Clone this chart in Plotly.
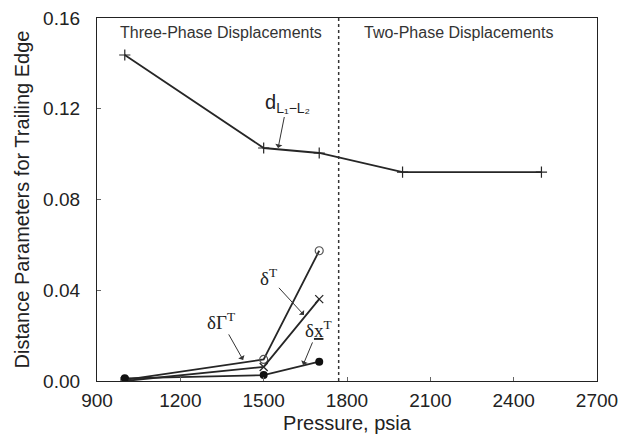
import plotly.graph_objects as go

# Data
pressure_dl = [1000, 1500, 1700, 2000, 2500]
d_l1_l2 = [0.1437, 0.1027, 0.1005, 0.0921, 0.0921]

pressure_low = [1000, 1500, 1700]
delta_gamma_T = [0.0005, 0.0095, 0.0574]   # open circles
delta_T = [0.0000, 0.0062, 0.0361]         # x markers
delta_x_T = [0.0012, 0.0026, 0.0085]       # filled circles

x_ticks = [900, 1200, 1500, 1800, 2100, 2400, 2700]
y_ticks = [0.00, 0.04, 0.08, 0.12, 0.16]
phase_boundary = 1770

LINE = "#262626"
fig = go.Figure()

fig.add_trace(go.Scatter(x=pressure_dl, y=d_l1_l2, mode="lines+markers",
                         line=dict(color=LINE, width=1.8),
                         marker=dict(symbol="cross-thin-open", size=8,
                                     line=dict(color=LINE, width=1.2))))
fig.add_trace(go.Scatter(x=pressure_low, y=delta_gamma_T, mode="lines+markers",
                         line=dict(color=LINE, width=1.8),
                         marker=dict(symbol="circle-open", size=8, color="#555",
                                     line=dict(color="#555", width=1.2))))
fig.add_trace(go.Scatter(x=pressure_low, y=delta_T, mode="lines+markers",
                         line=dict(color=LINE, width=1.8),
                         marker=dict(symbol="x-thin-open", size=8,
                                     line=dict(color="#444", width=1.3))))
fig.add_trace(go.Scatter(x=pressure_low, y=delta_x_T, mode="lines+markers",
                         line=dict(color=LINE, width=1.8),
                         marker=dict(symbol="circle", size=8, color="#111")))

fig.add_shape(type="line", x0=phase_boundary, x1=phase_boundary, y0=0, y1=1,
              xref="x", yref="paper", line=dict(color="#333", width=1.5, dash="dot"))

ann_font = dict(family="Liberation Sans, Arial, sans-serif", size=16, color="#333")
fig.add_annotation(x=1346, y=0.961, xref="x", yref="paper",
                   text="Three-Phase Displacements", showarrow=False, font=ann_font,
                   xanchor="center", yanchor="middle")
fig.add_annotation(x=2203, y=0.961, xref="x", yref="paper",
                   text="Two-Phase Displacements", showarrow=False, font=ann_font,
                   xanchor="center", yanchor="middle")

arrow_kw = dict(showarrow=True, arrowhead=1, arrowsize=1.2, arrowwidth=1.0,
                arrowcolor="#333", xref="x", yref="y")
sym_font = dict(family="Liberation Serif, Times New Roman, serif", size=19, color="#222")
fig.add_annotation(x=1552, y=0.1027, ax=9, ay=-45,
                   text="d<sub>L₁−L₂</sub>",
                   font=dict(family="Liberation Sans, Arial, sans-serif", size=20, color="#222"),
                   **arrow_kw)
fig.add_annotation(x=1645, y=0.0291, ax=-35, ay=-38, text="δ<sup>T</sup>", font=sym_font, **arrow_kw)
fig.add_annotation(x=1426, y=0.0093, ax=-22, ay=-39, text="δΓ<sup>T</sup>", font=sym_font, **arrow_kw)
fig.add_annotation(x=1642, y=0.0071, ax=15, ay=-36, text="δ<u>x</u><sup>T</sup>", font=sym_font, **arrow_kw)

axis_common = dict(showline=True, linecolor="#222", linewidth=1.2, mirror=True,
                   ticks="inside", ticklen=4, tickcolor="#666", showgrid=False, zeroline=False,
                   automargin=False,
                   tickfont=dict(family="Liberation Sans, Arial, sans-serif", size=19, color="#222"))
fig.update_xaxes(range=[900, 2700], tickvals=x_ticks, ticktext=[str(v) for v in x_ticks],
                 ticklabelstandoff=2,
                 title=dict(text="Pressure, psia", standoff=6,
                            font=dict(family="Liberation Sans, Arial, sans-serif", size=20, color="#222")),
                 **axis_common)
fig.update_yaxes(range=[0, 0.16], tickvals=y_ticks, ticktext=[f"{v:.2f}" for v in y_ticks],
                 ticklabelstandoff=12,
                 title=dict(text="Distance Parameters for Trailing Edge", standoff=8,
                            font=dict(family="Liberation Sans, Arial, sans-serif", size=20, color="#222")),
                 **axis_common)

fig.update_layout(width=621, height=437, showlegend=False,
                  plot_bgcolor="white", paper_bgcolor="white",
                  margin=dict(l=97, r=24, t=18, b=56))

fig.write_html("out.html")
